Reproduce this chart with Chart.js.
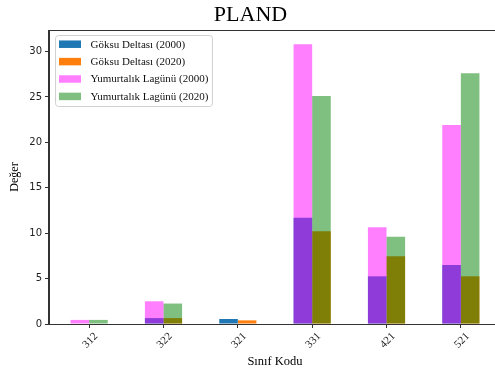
<!DOCTYPE html>
<html>
<head>
<meta charset="utf-8">
<script src="https://cdn.jsdelivr.net/npm/chart.js@4.4.1/dist/chart.umd.min.js"></script>
<style>
  html, body { margin: 0; padding: 0; background: #fff; overflow: hidden; width: 495px; height: 374px; }
  #wrap { position: relative; width: 550px; height: 374px; }
</style>
</head>
<body>
<div id="wrap"><canvas id="c" width="550" height="374"></canvas></div>
<script>
// Land-cover class codes and PLAND values per site and year
const classCodes  = ['312', '322', '321', '331', '421', '521'];
const goksu2000   = [0,    0.65, 0.55, 11.7, 5.25, 6.5];
const goksu2020   = [0,    0.65, 0.4,  10.2, 7.45, 5.25];
const yumurt2000  = [0.45, 2.5,  0,    30.8, 10.65, 21.9];
const yumurt2020  = [0.45, 2.25, 0,    25.1, 9.6,  27.6];
const yTicks      = [0, 5, 10, 15, 20, 25, 30];

const seriesNames = ['Göksu Deltası (2000)', 'Göksu Deltası (2020)',
                     'Yumurtalık Lagünü (2000)', 'Yumurtalık Lagünü (2020)'];

const serif = "'Liberation Serif', 'Times New Roman', serif";
const sans  = "'DejaVu Sans', sans-serif";

const toPoints = arr => arr.map((v, i) => ({ x: i, y: v }));

// Axes frame (top/right spines)
const framePlugin = {
  id: 'frame',
  afterDraw(chart) {
    const { ctx, chartArea: a } = chart;
    ctx.save();
    ctx.strokeStyle = '#333';
    ctx.lineWidth = 1;
    ctx.strokeRect(a.left - 0.5, a.top + 0.5, a.right - a.left, a.bottom - a.top);
    ctx.restore();
  }
};

// Legend box in the upper-left corner of the plot area
const insideLegend = {
  id: 'insideLegend',
  afterDatasetsDraw(chart) {
    const { ctx, chartArea: a } = chart;
    const ds = chart.data.datasets;
    const font = '11px ' + serif;
    ctx.save();
    ctx.font = font;
    const textW = Math.max(...ds.map(d => ctx.measureText(d.label).width));
    const x0 = a.left + 6.5, y0 = a.top + 5.5;
    const rowH = 17.4, swW = 22, swH = 7.5, textX = x0 + 35;
    const w = 35 + textW + 4, h = 71;
    ctx.fillStyle = 'rgba(255,255,255,0.85)';
    ctx.strokeStyle = '#d0d0d0';
    ctx.lineWidth = 1;
    ctx.beginPath();
    ctx.roundRect(x0, y0, w, h, 3);
    ctx.fill();
    ctx.stroke();
    ds.forEach((d, i) => {
      const cy = y0 + 8.7 + i * rowH;
      ctx.fillStyle = '#fff';
      ctx.fillRect(x0 + 3.5, cy - swH / 2, swW, swH);
      ctx.fillStyle = d.backgroundColor;
      ctx.fillRect(x0 + 3.5, cy - swH / 2, swW, swH);
      ctx.fillStyle = '#111';
      ctx.textBaseline = 'middle';
      ctx.textAlign = 'left';
      ctx.fillText(d.label, textX, cy + 0.5);
    });
    ctx.restore();
  }
};

const datasets = [
  { label: seriesNames[0], data: toPoints(goksu2000),  backgroundColor: '#1f77b4', stack: 'y2000', order: 2 },
  { label: seriesNames[1], data: toPoints(goksu2020),  backgroundColor: '#ff7f0e', stack: 'y2020', order: 2 },
  { label: seriesNames[2], data: toPoints(yumurt2000), backgroundColor: 'rgba(255,0,255,0.5)', stack: 'y2000', order: 1 },
  { label: seriesNames[3], data: toPoints(yumurt2020), backgroundColor: 'rgba(0,128,0,0.5)', stack: 'y2020', order: 1 }
];

new Chart(document.getElementById('c'), {
  type: 'bar',
  data: { datasets },
  options: {
    responsive: false,
    animation: false,
    devicePixelRatio: 1,
    categoryPercentage: 0.5,
    barPercentage: 1.0,
    borderWidth: 0,
    layout: { padding: { left: 0, right: 49, top: 0, bottom: 0 } },
    plugins: {
      legend: { display: false },
      tooltip: { enabled: false },
      title: {
        display: true,
        text: 'PLAND',
        color: '#000',
        font: { family: serif, size: 22, weight: 'normal', lineHeight: 1.0 },
        padding: { top: 4, bottom: 4 }
      }
    },
    scales: {
      x: {
        type: 'linear',
        offset: false,
        min: -0.54,
        max: 5.54,
        afterBuildTicks: s => { s.ticks = classCodes.map((_, i) => ({ value: i })); },
        afterFit: s => { s.height = 50; },
        grid: { display: true, offset: false, drawOnChartArea: false, drawTicks: true, tickLength: 4, color: '#333' },
        border: { display: true, color: '#333', width: 1 },
        ticks: {
          minRotation: 45, maxRotation: 45,
          autoSkip: false,
          padding: 2,
          labelOffset: 7,
          color: '#222',
          font: { family: serif, size: 11 },
          callback: v => classCodes[v]
        },
        title: {
          display: true,
          text: 'Sınıf Kodu',
          color: '#000',
          font: { family: serif, size: 12.5, lineHeight: 1.2 },
          padding: { top: 0, bottom: 4.5 }
        }
      },
      y: {
        stacked: false,
        min: 0,
        max: 32.37,
        afterBuildTicks: s => { s.ticks = yTicks.map(v => ({ value: v })); },
        afterFit: s => { s.width = 49; },
        grid: { display: true, drawOnChartArea: false, drawTicks: true, tickLength: 4, color: '#333' },
        border: { display: true, color: '#333', width: 1 },
        ticks: { padding: 3, color: '#222', font: { family: sans, size: 10 } },
        title: {
          display: true,
          text: 'Değer',
          color: '#000',
          font: { family: serif, size: 12, lineHeight: 1.2 },
          padding: { top: 8, bottom: 0 }
        }
      }
    }
  },
  plugins: [framePlugin, insideLegend]
});
</script>
</body>
</html>
